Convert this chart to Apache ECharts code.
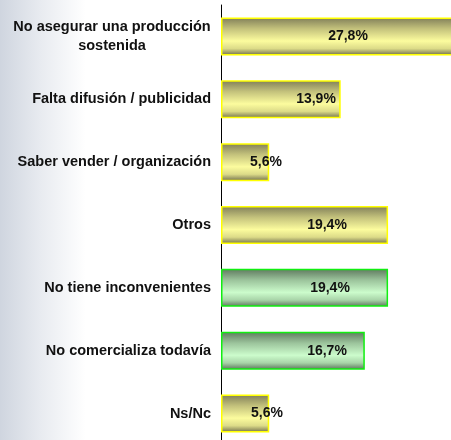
<!DOCTYPE html>
<html>
<head>
<meta charset="utf-8">
<script src="https://cdn.jsdelivr.net/npm/echarts@6/dist/echarts.min.js"></script>
<style>
  html, body { margin: 0; padding: 0; background: #fff; overflow: hidden; }
  #chart { width: 451px; height: 440px; }
</style>
</head>
<body>
<div id="chart"></div>
<script>
// categorias y porcentajes
var categorias = [
    'No asegurar una producción\nsostenida',
    'Falta difusión / publicidad',
    'Saber vender / organización',
    'Otros',
    'No tiene inconvenientes',
    'No comercializa todavía',
    'Ns/Nc'
];
var porcentajes = [27.8, 13.9, 5.6, 19.4, 19.4, 16.7, 5.6];
// tipo de barra: 'a' amarilla, 'v' verde
var tipos = ['a', 'a', 'a', 'a', 'v', 'v', 'a'];
// donde cae el centro de la etiqueta, medido desde el inicio de la barra
var etiquetaX = [127, 95, 45, 106, 109, 106, 46];

var fuente = '"Liberation Sans", Arial, sans-serif';

function grad(c0, c1, c2, c3, c4) {
    return new echarts.graphic.LinearGradient(0, 0, 0, 1, [
        {offset: 0, color: c0},
        {offset: 0.3, color: c1},
        {offset: 0.62, color: c2},
        {offset: 0.82, color: c3},
        {offset: 1, color: c4}
    ]);
}

var estilos = {
    a: {
        color: grad('#7f7d58', '#c4c27c', '#fcfc9e', '#dcdb88', '#6d6b4c'),
        borderColor: '#ffff00',
        borderWidth: 1.5
    },
    v: {
        color: grad('#5e785e', '#9cc49c', '#ccfccc', '#a8d4a8', '#5a705a'),
        borderColor: '#11ee11',
        borderWidth: 1.5
    }
};

// ancho de la primera linea de la etiqueta doble, para centrar las dos lineas
var ctx = document.createElement('canvas').getContext('2d');
ctx.font = 'bold 14.5px ' + fuente;
var anchoDoble = Math.ceil(ctx.measureText(categorias[0].split('\n')[0]).width);

var datos = [];
for (var i = 0; i < porcentajes.length; i++) {
    datos.push({
        value: porcentajes[i],
        itemStyle: estilos[tipos[i]],
        label: {position: [etiquetaX[i], '50%']}
    });
}

var chart = echarts.init(document.getElementById('chart'));
var option = {
    backgroundColor: new echarts.graphic.LinearGradient(0, 0, 1, 0, [
        {offset: 0, color: '#cfd5df'},
        {offset: 0.09, color: '#e8ebf0'},
        {offset: 0.19, color: '#ffffff'},
        {offset: 1, color: '#ffffff'}
    ]),
    animation: false,
    // la barra mas larga sale del cuadro en el original
    grid: {left: 221, width: 242, top: 5, height: 440, outerBoundsMode: 'none', containLabel: false},
    xAxis: {
        type: 'value',
        min: 0,
        max: 28.1,
        show: false
    },
    yAxis: {
        type: 'category',
        inverse: true,
        data: categorias,
        axisLine: {lineStyle: {color: '#000', width: 1}},
        axisTick: {show: false},
        axisLabel: {
            margin: 10,
            color: '#111',
            fontFamily: fuente,
            fontWeight: 'bold',
            fontSize: 14.5,
            lineHeight: 19,
            formatter: function (v) {
                if (v.indexOf('\n') < 0) return v;
                return v.split('\n').map(function (s) {
                    return '{c|' + s + '}';
                }).join('\n');
            },
            rich: {
                c: {
                    width: anchoDoble,
                    align: 'center',
                    color: '#111',
                    fontFamily: fuente,
                    fontWeight: 'bold',
                    fontSize: 14.5,
                    lineHeight: 19
                }
            }
        }
    },
    series: [{
        type: 'bar',
        barWidth: 38,
        clip: false,
        data: datos,
        label: {
            show: true,
            align: 'center',
            verticalAlign: 'middle',
            color: '#111',
            fontFamily: fuente,
            fontWeight: 'bold',
            fontSize: 14,
            formatter: function (p) {
                return p.value.toFixed(1).replace('.', ',') + '%';
            }
        }
    }]
};
chart.setOption(option);
</script>
</body>
</html>
